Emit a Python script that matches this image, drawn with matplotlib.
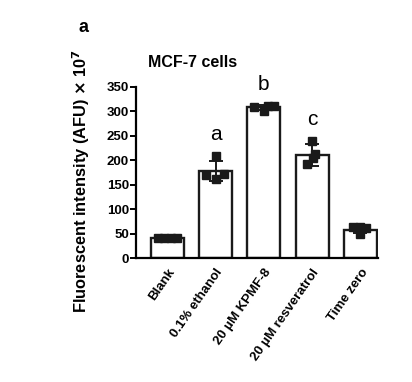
import matplotlib.pyplot as plt
import numpy as np

groups = ["Blank", "0.1% ethanol", "20 µM KPMF-8", "20 µM resveratrol", "Time zero"]
means = [40, 178, 308, 211, 58]
sds = [2, 20, 5, 22, 7]
points = [
	[40, 40, 40, 40],
	[208, 170, 161, 171],
	[308, 300, 311, 310],
	[240, 213, 205, 192],
	[63, 64, 61, 50],
]
jitter = [
	[-0.2, -0.07, 0.07, 0.2],
	[0.0, -0.2, 0.0, 0.17],
	[-0.2, 0.0, 0.2, 0.08],
	[0.0, 0.05, 0.02, -0.1],
	[-0.15, 0.0, 0.12, 0.0],
]
letters = ["", "a", "b", "c", ""]

plt.rcParams['font.family'] = ['Liberation Sans', 'DejaVu Sans']

fig = plt.figure(figsize=(4.12, 3.82), dpi=100)
ax = fig.add_axes([0.330, 0.3246, 0.587, 0.4484])

x = np.arange(len(groups))
ax.bar(x, means, width=0.68, color="white", edgecolor="#1a1a1a", linewidth=1.7, zorder=1)
ax.errorbar(x, means, yerr=sds, fmt="none", ecolor="#1a1a1a", elinewidth=1.4, capsize=5, capthick=1.4, zorder=3)
for i in range(len(groups)):
	ax.plot(x[i] + np.array(jitter[i]), points[i], "s", color="#1a1a1a", markersize=5.5, zorder=4)
	if letters[i]:
		ax.text(x[i], max(points[i]) + 24, letters[i], ha="center", va="bottom", fontsize=15)

ax.set_xlim(-0.65, 4.36)
ax.set_ylim(0, 350)
ax.set_yticks(range(0, 351, 50))
ax.set_xticks(x)
ax.set_xticklabels(groups, rotation=55, ha="right", rotation_mode="anchor", fontsize=9.5, fontweight="bold")
ax.tick_params(axis="x", length=0, pad=6)
ax.tick_params(axis="y", length=4, width=1.4, labelsize=9.5, pad=1)
for lbl in ax.get_yticklabels():
	lbl.set_fontweight("bold")
for s in ["top", "right"]:
	ax.spines[s].set_visible(False)
for s in ["left", "bottom"]:
	ax.spines[s].set_linewidth(1.6)

ax.set_ylabel(r"Fluorescent intensity (AFU) $\mathbf{\times}$ 10$^{\mathbf{7}}$", fontsize=11.8, fontweight="bold")
ax.yaxis.set_label_coords(-0.18, 0.45)
ax.set_title("MCF-7 cells", fontsize=11.5, fontweight="bold", loc="left", x=0.05, pad=14)
fig.text(0.19, 0.915, "a", fontsize=13, fontweight="bold")

fig.savefig("out.png", dpi=100)
